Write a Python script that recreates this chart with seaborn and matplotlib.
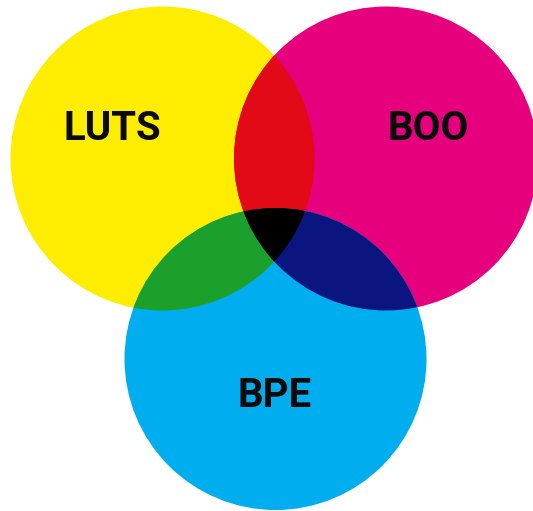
import numpy as np
import matplotlib
matplotlib.use("Agg")
import matplotlib.pyplot as plt
from matplotlib.patches import Circle, Polygon
import seaborn as sns

sns.set_theme(style="white")
plt.rcParams['font.family'] = ['Roboto', 'DejaVu Sans']

# Data
set_names = ["LUTS", "BOO", "BPE"]
set_colors = ["#FFED00", "#E6007E", "#00AEEF"]
pair_colors = {"LUTS&BOO": "#E30A17", "LUTS&BPE": "#1BA12B", "BOO&BPE": "#0A1580"}
triple_color = "#000000"

# Layout (pixel coordinates)
centers = [(162.5, 158.5), (386.0, 158.5), (275.5, 359.0)]
radii = [152.0, 152.0, 151.0]
label_pos = [(112, 129), (428, 129), (275, 396)]

fig = plt.figure(figsize=(5.33, 5.11), dpi=100)
ax = fig.add_axes([0, 0, 1, 1])
ax.set_xlim(0, 533)
ax.set_ylim(511, 0)
ax.set_axis_off()

for c, r, col in zip(centers, radii, set_colors):
    ax.add_patch(Circle(c, r, facecolor=col, edgecolor='none', zorder=1))

def clipped_circle(i, j, col, z):
    p = Circle(centers[i], radii[i], facecolor=col, edgecolor='none', zorder=z)
    ax.add_patch(p)
    p.set_clip_path(Circle(centers[j], radii[j], transform=ax.transData))
    return p

clipped_circle(1, 0, pair_colors["LUTS&BOO"], 2)
clipped_circle(2, 0, pair_colors["LUTS&BPE"], 2)
clipped_circle(2, 1, pair_colors["BOO&BPE"], 2)

# lens of LUTS & BOO as polygon, used to clip the triple region
t = np.linspace(0, 2*np.pi, 2000)
pts = []
for a, b in [(0, 1), (1, 0)]:
    ca = np.array(centers[a]); cb = np.array(centers[b])
    xy = ca + radii[a]*np.c_[np.cos(t), np.sin(t)]
    inside = np.hypot(*(xy - cb).T) <= radii[b]
    pts.append(xy[inside])
pts = np.vstack(pts)
cen = pts.mean(axis=0)
order = np.argsort(np.arctan2(pts[:, 1]-cen[1], pts[:, 0]-cen[0]))
lens = Polygon(pts[order], closed=True, transform=ax.transData)
blk = Circle(centers[2], radii[2], facecolor=triple_color, edgecolor='none', zorder=3)
ax.add_patch(blk)
blk.set_clip_path(lens)

for name, (x, y) in zip(set_names, label_pos):
    ax.text(x, y, name, ha='center', va='center', fontsize=29,
            fontweight='bold', color='#0a0a0a', zorder=5)

fig.savefig("out.png", dpi=100, facecolor='white')
